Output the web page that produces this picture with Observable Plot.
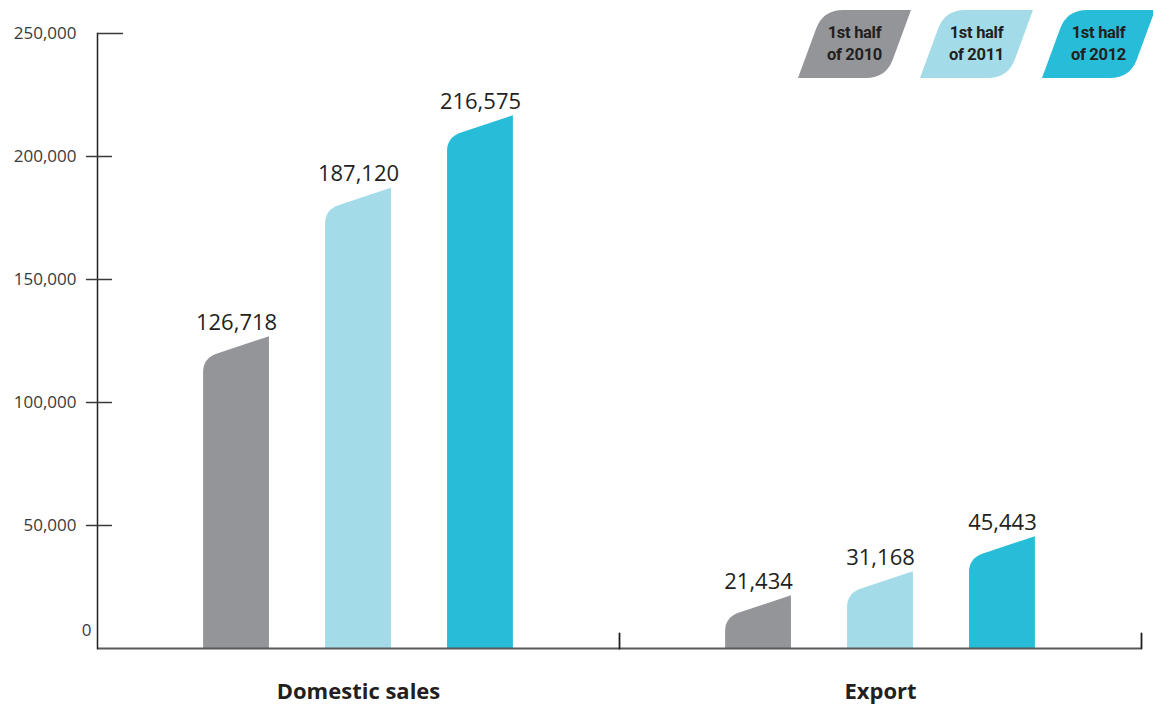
<!DOCTYPE html>
<html><head><meta charset="utf-8">
<script src="https://cdn.jsdelivr.net/npm/d3@7"></script>
<script src="https://cdn.jsdelivr.net/npm/@observablehq/plot@0.6"></script>
<style>
html,body{margin:0;padding:0;background:#fff;}
#wrap{position:relative;width:1153px;height:706px;overflow:hidden;}
#wrap svg{display:block;}
#legend{position:absolute;left:0;top:0;}
</style></head><body><div id="wrap"></div>
<script>
const groups = ["Domestic sales", "Export"];
const periods = ["1st half of 2010", "1st half of 2011", "1st half of 2012"];
const legendLines = [["1st half", "of 2010"], ["1st half", "of 2011"], ["1st half", "of 2012"]];
const domesticValues = [126718, 187120, 216575];
const exportValues = [21434, 31168, 45443];
const colors = ["#939598", "#a3dbe8", "#27bcd7"];
const yTicks = [0, 50000, 100000, 150000, 200000, 250000];

const data = [
  ...periods.map((p, i) => ({group: groups[0], period: p, value: domesticValues[i]})),
  ...periods.map((p, i) => ({group: groups[1], period: p, value: exportValues[i]}))
];

// bar with slanted top and rounded top-left corner
function slanted(index, scales, values, dims, ctx, next) {
  const g = next(index, scales, values, dims, ctx);
  if (!g) return g;
  g.querySelectorAll("rect").forEach(r => {
    const x = +r.getAttribute("x"), y = +r.getAttribute("y");
    const w = +r.getAttribute("width"), h = +r.getAttribute("height");
    const drop = w / 3, rad = 14;
    const p = document.createElementNS("http://www.w3.org/2000/svg", "path");
    for (const a of [...r.attributes]) if (!["x", "y", "width", "height"].includes(a.name)) p.setAttribute(a.name, a.value);
    p.setAttribute("d", `M${x},${y + h}L${x},${y + drop + rad}Q${x},${y + drop} ${x + rad},${y + drop - rad * drop / w}L${x + w},${y}L${x + w},${y + h}Z`);
    r.replaceWith(p);
  });
  return g;
}

const lineShape = {draw(c, l) { c.moveTo(0, 0); c.lineTo(0, -l); }};

const chart = Plot.plot({
  width: 1153, height: 706,
  marginLeft: 97, marginRight: 12, marginTop: 33, marginBottom: 58,
  style: {fontFamily: "'Open Sans', sans-serif", color: "#231f20", background: "transparent"},
  fx: {domain: groups, padding: 0},
  x: {domain: periods, paddingInner: 0.46, paddingOuter: 0.87, round: false, axis: null},
  y: {domain: [0, 250000]},
  color: {domain: periods, range: colors},
  marks: [
    Plot.barY(data, {fx: "group", x: "period", y: "value", fill: "period", render: slanted}),
    Plot.text(data, {fx: "group", x: "period", y: "value", text: d => d3.format(",")(d.value), dy: -7, lineAnchor: "bottom", fontSize: 22, fill: "#231f20"}),
    Plot.ruleY([0], {stroke: "#58595b", strokeWidth: 2}),
    Plot.frame({anchor: "left", facetAnchor: "left", stroke: "#231f20", strokeWidth: 1.5}),
    Plot.vector([0], {frameAnchor: "bottom-right", length: 15, anchor: "start", shape: lineShape, stroke: "#231f20", strokeWidth: 1.8}),
    Plot.axisY({ticks: yTicks.slice(1), tickSize: 0, tickPadding: 21, fontSize: 17, label: null, fill: "#3a3a3a"}),
    Plot.axisY({ticks: yTicks.slice(0, 1), tickSize: 0, tickPadding: 6, dy: -18, fontSize: 17, label: null, fill: "#3a3a3a"}),
    Plot.vector(yTicks.slice(1, 5), {y: d => d, frameAnchor: "left", facetAnchor: "left", length: 25, rotate: 90, anchor: "middle", dx: 1.5, shape: lineShape, stroke: "#3a3a3a", strokeWidth: 1.3}),
    Plot.vector(yTicks.slice(5), {y: d => d, frameAnchor: "left", facetAnchor: "left", length: 25, rotate: 90, anchor: "start", shape: lineShape, stroke: "#3a3a3a", strokeWidth: 1.3}),
    Plot.axisFx({anchor: "bottom", tickSize: 0, tickPadding: 35, fontSize: 22, fontWeight: "bold", label: null})
  ]
});
document.getElementById("wrap").appendChild(chart);

// legend
const NS = "http://www.w3.org/2000/svg";
const leg = document.createElementNS(NS, "svg");
leg.setAttribute("id", "legend");
leg.setAttribute("width", 1153);
leg.setAttribute("height", 90);
const legTop = 10, legBot = 78, legW = 88, legSkew = 25, legRad = 20, legStep = 122, legStart = 798;
periods.forEach((p, i) => {
  const bl = [legStart + i * legStep, legBot], tl = [bl[0] + legSkew, legTop], tr = [tl[0] + legW, legTop], br = [bl[0] + legW, legBot];
  const len = Math.hypot(legSkew, legBot - legTop);
  const ux = legSkew / len, uy = (legBot - legTop) / len;
  const path = `M${bl[0]},${bl[1]}L${tl[0] - ux * legRad},${tl[1] + uy * legRad}Q${tl[0]},${tl[1]} ${tl[0] + legRad},${tl[1]}L${tr[0]},${tr[1]}L${br[0] + ux * legRad},${br[1] - uy * legRad}Q${br[0]},${br[1]} ${br[0] - legRad},${br[1]}Z`;
  const pe = document.createElementNS(NS, "path");
  pe.setAttribute("d", path);
  pe.setAttribute("fill", colors[i]);
  leg.appendChild(pe);
  const cx = (bl[0] + tr[0]) / 2;
  legendLines[i].forEach((t, j) => {
    const te = document.createElementNS(NS, "text");
    te.setAttribute("x", cx);
    te.setAttribute("y", 38 + j * 22);
    te.setAttribute("text-anchor", "middle");
    te.setAttribute("font-family", "Roboto, sans-serif");
    te.setAttribute("font-weight", "bold");
    te.setAttribute("font-size", 16.5);
    te.setAttribute("letter-spacing", "-0.3");
    te.setAttribute("fill", "#231f20");
    te.textContent = t;
    leg.appendChild(te);
  });
});
document.getElementById("wrap").appendChild(leg);
</script>
</body></html>
